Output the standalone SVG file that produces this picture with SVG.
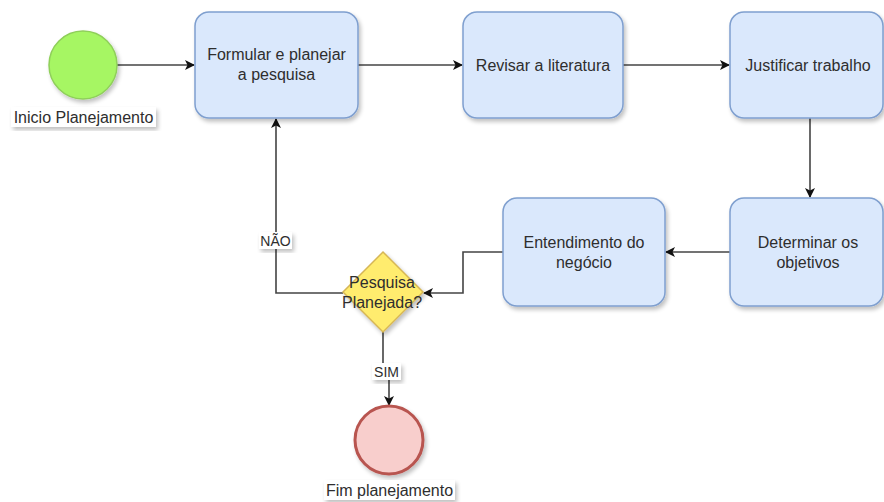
<svg xmlns="http://www.w3.org/2000/svg" width="884" height="502" viewBox="0 0 884 502">
<defs>
<filter id="sh" x="-20%" y="-20%" width="140%" height="140%">
<feGaussianBlur in="SourceAlpha" stdDeviation="2"/>
<feOffset dx="2" dy="3" result="b"/>
<feComponentTransfer><feFuncA type="linear" slope="0.25"/></feComponentTransfer>
<feMerge><feMergeNode/><feMergeNode in="SourceGraphic"/></feMerge>
</filter>
<marker id="arr" viewBox="0 0 10 10" refX="9" refY="5" markerWidth="10" markerHeight="10" markerUnits="userSpaceOnUse" orient="auto">
<path d="M0,0 L10,5 L0,10 L2.5,5 Z" fill="#111"/>
</marker>
</defs>
<style>
.box{fill:#dae8fc;stroke:#7f9fcf;stroke-width:1.5;filter:url(#sh)}
.t{font-family:"Liberation Sans",Arial,sans-serif;font-size:16px;fill:#2e2e2e;text-anchor:middle}
.s{font-size:14px}
.c{fill:none;stroke:#444;stroke-width:1.6}
.lbl{fill:#fff;filter:url(#sh)}
</style>
<rect width="884" height="502" fill="#fff"/>
<g id="connectors">
<path class="c" d="M117,65 H194" marker-end="url(#arr)"/>
<path class="c" d="M358,65 H462" marker-end="url(#arr)"/>
<path class="c" d="M623,65 H729" marker-end="url(#arr)"/>
<path class="c" d="M810,118 V197" marker-end="url(#arr)"/>
<path class="c" d="M730,252 H666" marker-end="url(#arr)"/>
<path class="c" d="M503,252 H463 V293 H424" marker-end="url(#arr)"/>
<path class="c" d="M343,293 H276 V119" marker-end="url(#arr)"/>
<path class="c" d="M383,332 V371 H389 V405" marker-end="url(#arr)"/>
<g id="lbl-nao">
<rect class="lbl" x="259" y="232" width="33" height="17"/>
<text class="t s" x="275.5" y="245.5">NÃO</text>
</g>
<g id="lbl-sim">
<rect class="lbl" x="372" y="363" width="29" height="17"/>
<text class="t s" x="386.5" y="376.5">SIM</text>
</g>
</g>
<g id="start">
<circle cx="83" cy="65" r="34" fill="#a6f664" stroke="#8fcf5a" stroke-width="1.5" filter="url(#sh)"/>
<rect class="lbl" x="11" y="107" width="145" height="20"/>
<text class="t" x="83.5" y="122.5">Inicio Planejamento</text>
</g>
<g id="formular">
<rect class="box" x="195" y="12" width="163" height="106" rx="14"/>
<text class="t" x="276.5" y="60">Formular e planejar</text>
<text class="t" x="276.5" y="80">a pesquisa</text>
</g>
<g id="revisar">
<rect class="box" x="463" y="12" width="160" height="106" rx="14"/>
<text class="t" x="543" y="70.5">Revisar a literatura</text>
</g>
<g id="justificar">
<rect class="box" x="730" y="12" width="153" height="106" rx="14"/>
<text class="t" x="808" y="70.5">Justificar trabalho</text>
</g>
<g id="determinar">
<rect class="box" x="730" y="198" width="153" height="108" rx="14"/>
<text class="t" x="808" y="247.5">Determinar os</text>
<text class="t" x="808" y="267.5">objetivos</text>
</g>
<g id="entendimento">
<rect class="box" x="503" y="198" width="162" height="108" rx="14"/>
<text class="t" x="584" y="247.5">Entendimento do</text>
<text class="t" x="584" y="267.5">negócio</text>
</g>
<g id="decisao">
<path d="M383,252 L423,292 L383,332 L343,292 Z" fill="#ffec6e" stroke="#d6b656" stroke-width="1.5" filter="url(#sh)"/>
<text class="t" x="382" y="287.5">Pesquisa</text>
<text class="t" x="382" y="307.5">Planejada?</text>
</g>
<g id="fim">
<circle cx="389" cy="440" r="34" fill="#f8cecc" stroke="#b85450" stroke-width="3" filter="url(#sh)"/>
<rect class="lbl" x="324" y="480" width="131" height="20"/>
<text class="t" x="389.5" y="495.5">Fim planejamento</text>
</g>
</svg>
